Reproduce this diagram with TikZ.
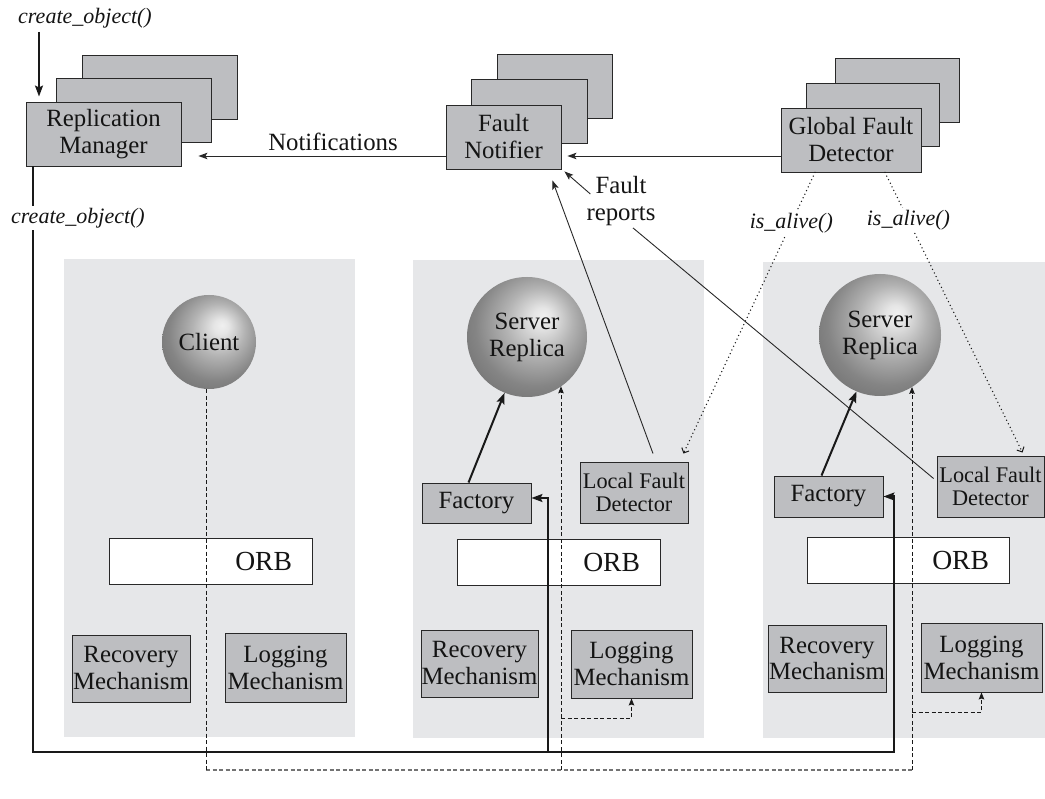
\documentclass[tikz,border=0pt]{standalone}
\usepackage{fontspec}
\setmainfont{Liberation Serif}
\usetikzlibrary{arrows.meta,calc}
\definecolor{boxgray}{RGB}{189,190,193}
\definecolor{panelgray}{RGB}{230,231,233}
\definecolor{edgecol}{RGB}{40,40,40}
\pgfdeclareradialshading{sphere}{\pgfpoint{7bp}{9bp}}{color(0bp)=(black!6); color(4bp)=(black!10); color(14bp)=(black!30); color(25bp)=(black!48); color(36bp)=(black!58); color(50bp)=(black!60)}
\newcommand\mainsz{\fontsize{24.8}{27}\selectfont}
\newcommand\lfdsz{\fontsize{22.3}{23}\selectfont}
\newcommand\labsz{\fontsize{22}{26}\selectfont\itshape}
\newcommand\orbsz{\fontsize{27.6}{30}\selectfont}
\begin{document}
\begin{tikzpicture}[x=1pt,y=-1pt,
  box/.style={draw=edgecol, fill=boxgray, line width=0.9pt, inner sep=0pt, align=center, font=\mainsz, text=black!92},
  lfdbox/.style={box, font=\lfdsz},
  orbbox/.style={draw=edgecol, fill=white, line width=0.9pt, text width=#1, align=right, inner xsep=20pt, inner ysep=0pt, minimum height=46pt, font=\orbsz, text=black!92},
  ballnode/.style={circle, shade, shading=sphere, draw=none, inner sep=0pt, align=center, font=\mainsz, text=black!92},
  panel/.style={fill=panelgray, draw=none},
  lab/.style={font=\labsz, text=black!92, inner sep=2pt},
  txt/.style={font=\mainsz, text=black!92, align=center, inner sep=2pt},
  thinline/.style={draw=edgecol, line width=0.9pt},
  bigtip/.style={-{Stealth[length=11pt,width=8pt,inset=2pt]}},
  smalltip/.style={-{Stealth[length=9pt,width=6.5pt,inset=2pt]}},
  dashtip/.style={-{Stealth[length=7pt,width=5.5pt,inset=1pt]}},
  busline/.style={draw=black!90, line width=2pt},
  dashline/.style={draw=black!90, line width=0.9pt, dash pattern=on 4pt off 2.5pt},
  graydash/.style={draw=black!55, line width=1.4pt, dash pattern=on 4pt off 2.5pt},
  dotline/.style={draw=black!90, line width=1.5pt, line cap=round, dash pattern=on 0pt off 4pt, -{Straight Barb[length=4pt,width=8pt,line width=1pt]}}
]
\useasboundingbox (0,0) rectangle (1045,799);

% panels
\fill[panel] (64,259) rectangle (355,737);
\fill[panel] (413,260) rectangle (704,738);
\fill[panel] (763,262) rectangle (1050,738);

% top stacked boxes
\node[box, minimum width=155pt, minimum height=64pt] (rmC) at (159.5,87) {};
\node[box, minimum width=155pt, minimum height=64pt] (rmB) at (133.5,110) {};
\node[box, minimum width=155pt, minimum height=64pt] (rm) at (103.5,134) {Replication\\Manager};

\node[box, minimum width=115pt, minimum height=64pt] (fnC) at (554.5,86) {};
\node[box, minimum width=116pt, minimum height=64pt] (fnB) at (529,111) {};
\node[box, minimum width=115pt, minimum height=64pt] (fn) at (503.5,137) {Fault\\Notifier};

\node[box, minimum width=124pt, minimum height=64pt] (gfdC) at (897,90) {};
\node[box, minimum width=133pt, minimum height=63pt] (gfdB) at (872.5,114.5) {};
\node[box, minimum width=140pt, minimum height=64pt] (gfd) at (851,140) {Global Fault\\Detector};

% balls
\node[ballnode, minimum size=94pt] (cl) at (209,342) {Client};
\node[ballnode, minimum size=120pt] (sr2) at (527,337) {Server\\Replica};
\node[ballnode, minimum size=122pt] (sr3) at (880,335) {Server\\Replica};

% factories and local fault detectors
\node[box, minimum width=109pt, minimum height=40pt] (fac2) at (476.5,503) {Factory};
\node[lfdbox, minimum width=108pt, minimum height=61pt] (lfd2) at (634,492.5) {Local Fault\\Detector};
\node[box, minimum width=109pt, minimum height=41pt] (fac3) at (828.5,496.5) {Factory};
\node[lfdbox, minimum width=107pt, minimum height=61pt] (lfd3) at (990.5,486.5) {Local Fault\\Detector};

% ORBs
\node[orbbox=163pt] (orb1) at (210.5,561) {ORB};
\node[orbbox=163pt] (orb2) at (558.5,562) {ORB};
\node[orbbox=162pt] (orb3) at (908,560) {ORB};

% mechanisms
\node[box, minimum width=118pt, minimum height=67pt] (rec1) at (131,668.5) {Recovery\\Mechanism};
\node[box, minimum width=121pt, minimum height=69pt] (log1) at (285.5,667.5) {Logging\\Mechanism};
\node[box, minimum width=117pt, minimum height=67pt] (rec2) at (479.5,663.5) {Recovery\\Mechanism};
\node[box, minimum width=121pt, minimum height=68pt] (log2) at (631.5,664) {Logging\\Mechanism};
\node[box, minimum width=118pt, minimum height=67pt] (rec3) at (827,658.5) {Recovery\\Mechanism};
\node[box, minimum width=121pt, minimum height=69pt] (log3) at (981.5,657.5) {Logging\\Mechanism};

% labels
\node[lab] (co1) at (85,18) {create\_object()};
\node[txt] (notif) at (333,142) {Notifications};
\node[txt] (fr) at (621,201) {Fault\\reports};

% create_object arrow at top
\coordinate (c1) at (39,32);
\draw[busline, bigtip, shorten >=5pt] (c1) -- (c1 |- rm.north);

% main bus from replication manager to factories
\coordinate (busL) at (33,752);
\coordinate (bus2) at (548,752);
\coordinate (bus3) at (894,752);
\draw[busline, bigtip] (rm.south -| busL) -- (busL) -- (bus3) -- (bus3 |- fac3.east) -- (fac3.east);
\draw[busline, bigtip] (bus2) -- ($(bus2 |- fac2.east)+(0,-5)$) -- ($(fac2.east)+(0,-5)$);
\node[lab, fill=white] (co2) at (78,218) {create\_object()};

% factory -> server replica
\draw[busline, bigtip] ($(fac2.north)+(-8,0)$) -- (sr2);
\draw[busline, bigtip] ($(fac3.north)+(-7,0)$) -- (sr3);

% dashed request paths
\coordinate (dB1) at (206,770);
\coordinate (dB2) at (561,770);
\coordinate (dB3) at (912,770);
\coordinate (br2) at (561,718);
\coordinate (br3) at (912,712);
\draw[graydash] (dB1) -- (dB3);
\draw[dashline] (dB1 |- cl.south) -- (dB1);
\draw[dashline, dashtip] (dB2) -- (dB2 |- sr2.-55.5);
\draw[dashline, dashtip] (dB3) -- (dB3 |- sr3.-58);
\draw[dashline, dashtip] (br2) -| (log2.south);
\draw[dashline, dashtip] (br3) -| (log3.south);

% notifications
\coordinate (ny) at (0,156);
\draw[thinline, smalltip, shorten >=17pt] (fn.west |- ny) -- (rm.east |- ny);
\draw[thinline, smalltip, shorten >=6pt] (gfd.west |- ny) -- (fn.east |- ny);

% fault reports
\draw[thinline, smalltip] ($(lfd2.north)+(19,-8)$) -- ($(fn.south east)+(-9,11)$);
\draw[thinline, smalltip] ($(fr.west)+(6,-7)$) -- ($(fn.south east)+(3,2)$);
\draw[thinline] ($(fr.south)+(12,0)$) -- ($(lfd3.west)+(-3,-8)$);

% is_alive
\draw[dotline] ($(gfd.south)+(-36,0)$) -- node[lab, fill=white, pos=0.18] (ia1) {is\_alive()} ($(lfd2.north east)+(-5,-8)$);
\draw[dotline] ($(gfd.south)+(34,0)$) -- node[lab, fill=white, pos=0.17] (ia2) {is\_alive()} ($(lfd3.north)+(32,-3)$);
\end{tikzpicture}
\end{document}
